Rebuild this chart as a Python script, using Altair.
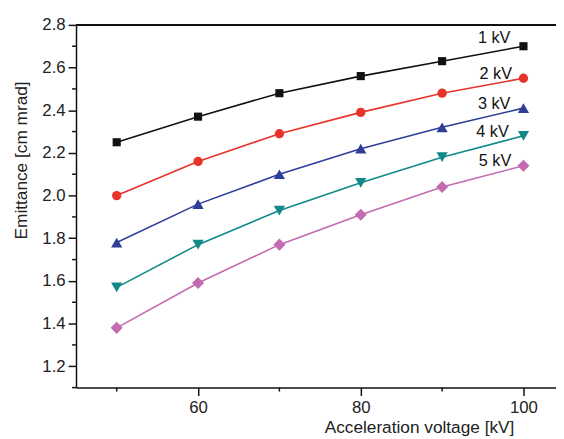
import altair as alt
import pandas as pd

voltages = [50, 60, 70, 80, 90, 100]
series_names = ["1 kV", "2 kV", "3 kV", "4 kV", "5 kV"]
e1 = [2.25, 2.37, 2.48, 2.56, 2.63, 2.70]
e2 = [2.00, 2.16, 2.29, 2.39, 2.48, 2.55]
e3 = [1.78, 1.96, 2.10, 2.22, 2.32, 2.41]
e4 = [1.57, 1.77, 1.93, 2.06, 2.18, 2.28]
e5 = [1.38, 1.59, 1.77, 1.91, 2.04, 2.14]
colors = ["#111111", "#e8332b", "#2f3e97", "#11898a", "#c36bb0"]
shapes = ["square", "circle", "triangle-up", "triangle-down", "diamond"]
marker_sizes = [68, 90, 130, 130, 150]
label_x = [96.4, 96.6, 96.4, 96.2, 96.5]
label_y = [2.74, 2.569, 2.43, 2.30, 2.163]
x_major = [60, 80, 100]
x_minor = [50, 70, 90]
y_major = [1.2, 1.4, 1.6, 1.8, 2.0, 2.2, 2.4, 2.6, 2.8]
y_minor = [1.1, 1.3, 1.5, 1.7, 1.9, 2.1, 2.3, 2.5, 2.7]

rows = []
for name, vals in zip(series_names, [e1, e2, e3, e4, e5]):
    for v, e in zip(voltages, vals):
        rows.append({"series": name, "voltage": v, "emittance": e})
df = pd.DataFrame(rows)
labels = pd.DataFrame({"series": series_names, "lx": label_x, "ly": label_y})
xminor_df = pd.DataFrame({"v": x_minor})
yminor_df = pd.DataFrame({"v": y_minor})

W, H = 487, 368
FONT = "Liberation Sans"
INK = "#111111"

xscale = alt.Scale(domain=[45, 104], nice=False, zero=False)
yscale = alt.Scale(domain=[1.1, 2.8], nice=False, zero=False)
color = alt.Color("series:N", scale=alt.Scale(domain=series_names, range=colors), legend=None)

xaxis = alt.Axis(
    values=x_major, format="d", tickSize=8, labelOverlap=False,
    labelFontSize=17, labelPadding=4,
    title="Acceleration voltage [kV]",
    titleX=348, titleY=41, titleAnchor="start", titleAlign="center", titleBaseline="middle",
    grid=False,
)
yaxis = alt.Axis(
    values=y_major, format=".1f", tickSize=8, labelOverlap=False,
    labelFontSize=17, labelPadding=3,
    title="Emittance [cm mrad]",
    titleX=-55, titleY=137, titleAngle=270, titleAlign="center", titleBaseline="middle",
    grid=False,
)

lines = alt.Chart(df).mark_line(strokeWidth=1.6).encode(
    x=alt.X("voltage:Q", scale=xscale, axis=xaxis),
    y=alt.Y("emittance:Q", scale=yscale, axis=yaxis),
    color=color,
    detail="series:N",
)

points = alt.Chart(df).mark_point(filled=True, opacity=1).encode(
    x=alt.X("voltage:Q", scale=xscale),
    y=alt.Y("emittance:Q", scale=yscale),
    color=color,
    shape=alt.Shape("series:N", scale=alt.Scale(domain=series_names, range=shapes), legend=None),
    size=alt.Size("series:N", scale=alt.Scale(type="ordinal", domain=series_names, range=marker_sizes), legend=None),
)

text = alt.Chart(labels).mark_text(fontSize=16.5, font=FONT, color=INK).encode(
    x=alt.X("lx:Q", scale=xscale),
    y=alt.Y("ly:Q", scale=yscale),
    text="series:N",
)

top_line = alt.Chart(labels).mark_rule(color=INK, strokeWidth=1.5).encode(
    x=alt.value(0), x2=alt.value(W + 5), y=alt.value(0)
)

xminor = alt.Chart(xminor_df).mark_rule(color=INK, strokeWidth=1.5).encode(
    x=alt.X("v:Q", scale=xscale), y=alt.value(H), y2=alt.value(H + 4)
)
yminor = alt.Chart(yminor_df).mark_rule(color=INK, strokeWidth=1.5).encode(
    y=alt.Y("v:Q", scale=yscale), x=alt.value(-4), x2=alt.value(0)
)

chart = alt.layer(lines, points, text, top_line, xminor, yminor).properties(
    width=W, height=H,
    autosize=alt.AutoSizeParams(type="none"),
    padding={"left": 69, "top": 14, "right": 0, "bottom": 49},
).configure_view(stroke=None, clip=False).configure_axis(
    domainColor=INK, domainWidth=1.5, tickColor=INK, tickWidth=1.5,
    labelFont=FONT, labelColor="#222222",
    titleFont=FONT, titleFontSize=17.5, titleFontWeight="normal", titleColor="#222222",
)

chart.save("out.html", embed_options={"renderer": "svg", "actions": False})
